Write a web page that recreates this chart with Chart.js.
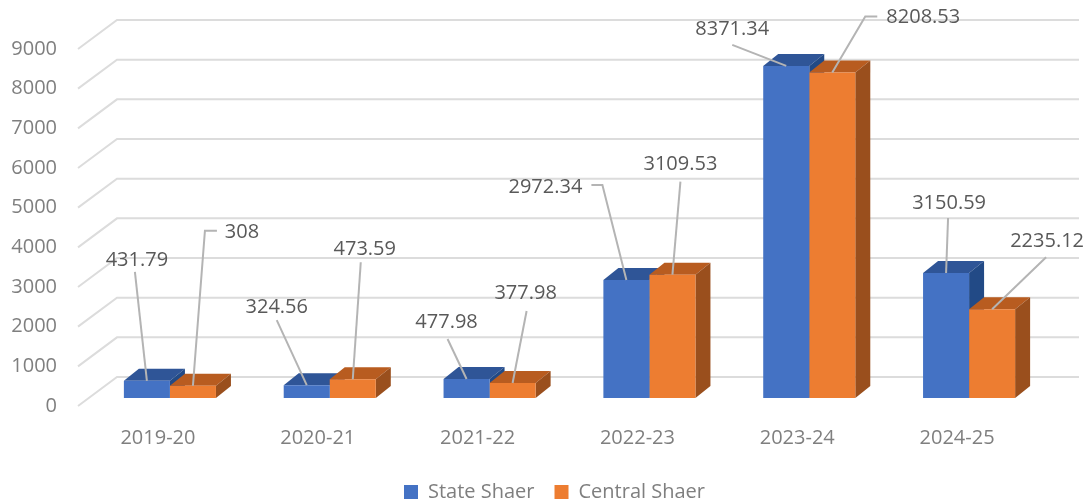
<!DOCTYPE html>
<html>
<head>
<meta charset="utf-8">
<style>
  html, body { margin: 0; padding: 0; background: #fff; }
  #wrap { width: 1091px; height: 504px; }
</style>
<script src="https://cdn.jsdelivr.net/npm/chart.js@4"></script>
</head>
<body>
<div id="wrap"><canvas id="chart"></canvas></div>
<script>
const categories = ["2019-20", "2020-21", "2021-22", "2022-23", "2023-24", "2024-25"];
const stateShaer = [431.79, 324.56, 477.98, 2972.34, 8371.34, 3150.59];
const centralShaer = [308, 473.59, 377.98, 3109.53, 8208.53, 2235.12];
const stateLabels = ["431.79", "324.56", "477.98", "2972.34", "8371.34", "3150.59"];
const centralLabels = ["308", "473.59", "377.98", "3109.53", "8208.53", "2235.12"];

// Callout layout, relative to the top centre of each bar: label, leader start, optional elbow
const stateCallouts = [
  { label: [-10, -121], start: [-12, -109] },
  { label: [-30, -78], start: [-30, -65] },
  { label: [-20, -57], start: [-19, -40] },
  { label: [-81, -93], start: [-35, -95], elbow: [-24, -95] },
  { label: [-54, -37], start: [-54, -21] },
  { label: [3, -70], start: [2, -55] },
];
const centralCallouts = [
  { label: [49, -153], start: [24, -155], elbow: [12, -155] },
  { label: [12, -130], start: [8, -117] },
  { label: [13, -90], start: [14, -72] },
  { label: [8, -110], start: [8, -93] },
  { label: [91, -55], start: [45, -56], elbow: [33, -56] },
  { label: [55, -68], start: [54, -52] },
];

const FONT = "'Open Sans', sans-serif";
const BAR_DEPTH_X = 15;
const BAR_DEPTH_Y = 12;
const LEGEND_SHIFT = 30;

function shape(ctx, points, color) {
  ctx.fillStyle = color;
  ctx.beginPath();
  points.forEach(([x, y], i) => (i ? ctx.lineTo(x, y) : ctx.moveTo(x, y)));
  ctx.closePath();
  ctx.fill();
}

// Walls of the fake 3D box and the top and side of each bar, behind the bar fronts
const depthPlugin = {
  id: "depth",
  afterLayout(chart) {
    // The reference legend sits right of the plot centre
    chart.legend.left += LEGEND_SHIFT;
    chart.legend.right += LEGEND_SHIFT;
  },
  beforeDatasetsDraw(chart) {
    const { ctx, chartArea, scales } = chart;
    ctx.save();
    ctx.strokeStyle = "#dcdcdc";
    ctx.lineWidth = 2;
    scales.y.ticks.forEach((tick) => {
      const y = scales.y.getPixelForValue(tick.value);
      ctx.beginPath();
      ctx.moveTo(chartArea.left - 12, y + 8);
      ctx.lineTo(chartArea.left + 27, y - 21);
      ctx.lineTo(chartArea.right + 30, y - 21);
      ctx.stroke();
    });

    chart.data.datasets.forEach((dataset, i) => {
      chart.getDatasetMeta(i).data.forEach((bar) => {
        const left = bar.x - bar.width / 2;
        const right = bar.x + bar.width / 2;
        shape(ctx, [
          [left, bar.y],
          [left + BAR_DEPTH_X, bar.y - BAR_DEPTH_Y],
          [right + BAR_DEPTH_X, bar.y - BAR_DEPTH_Y],
          [right, bar.y],
        ], dataset.topColor);
        shape(ctx, [
          [right, bar.y],
          [right + BAR_DEPTH_X, bar.y - BAR_DEPTH_Y],
          [right + BAR_DEPTH_X, bar.base - BAR_DEPTH_Y],
          [right, bar.base],
        ], dataset.sideColor);
      });
    });
    ctx.restore();
  },
  afterDatasetsDraw(chart) {
    const { ctx } = chart;
    ctx.save();
    ctx.font = `20px ${FONT}`;
    ctx.textAlign = "center";
    ctx.textBaseline = "middle";
    chart.data.datasets.forEach((dataset, i) => {
      chart.getDatasetMeta(i).data.forEach((bar, j) => {
        const c = dataset.callouts[j];
        ctx.strokeStyle = "#b4b4b4";
        ctx.lineWidth = 2;
        ctx.beginPath();
        ctx.moveTo(bar.x + c.start[0], bar.y + c.start[1]);
        if (c.elbow) ctx.lineTo(bar.x + c.elbow[0], bar.y + c.elbow[1]);
        ctx.lineTo(bar.x, bar.y);
        ctx.stroke();
        ctx.fillStyle = "#595959";
        ctx.fillText(dataset.valueLabels[j], bar.x + c.label[0], bar.y + c.label[1]);
      });
    });
    ctx.restore();
  },
};

new Chart(document.getElementById("chart"), {
  type: "bar",
  data: {
    labels: categories,
    datasets: [
      {
        label: "State Shaer",
        data: stateShaer,
        valueLabels: stateLabels,
        callouts: stateCallouts,
        backgroundColor: "#4472c4",
        topColor: "#2f5597",
        sideColor: "#224a86",
      },
      {
        label: "Central Shaer",
        data: centralShaer,
        valueLabels: centralLabels,
        callouts: centralCallouts,
        backgroundColor: "#ed7d31",
        topColor: "#b85c20",
        sideColor: "#9a4f1d",
      },
    ],
  },
  plugins: [depthPlugin],
  options: {
    responsive: true,
    maintainAspectRatio: false,
    animation: false,
    categoryPercentage: 0.576,
    barPercentage: 1,
    layout: { padding: { top: 41, right: 42, bottom: -8, left: 0 } },
    plugins: {
      tooltip: { enabled: false },
      legend: {
        position: "bottom",
        labels: {
          boxWidth: 14,
          boxHeight: 14,
          padding: 20,
          color: "#7f7f7f",
          font: { family: FONT, size: 20 },
        },
      },
    },
    scales: {
      x: {
        grid: { display: false },
        border: { display: false },
        afterFit: (scale) => { scale.height = 64; },
        ticks: {
          color: "#7f7f7f",
          font: { family: FONT, size: 20 },
          padding: 20,
          labelOffset: -12,
          maxRotation: 0,
        },
      },
      y: {
        min: 0,
        max: 9000,
        afterFit: (scale) => {
          scale.width = 90;
          // tick padding would otherwise push the plot top down
          scale.paddingTop = 0;
          scale.paddingBottom = 0;
        },
        grid: { display: false },
        border: { display: false },
        ticks: {
          stepSize: 1000,
          color: "#7f7f7f",
          font: { family: FONT, size: 20 },
          padding: 25,
          labelOffset: 8,
          callback: (value) => String(value),
        },
      },
    },
  },
});
</script>
</body>
</html>
